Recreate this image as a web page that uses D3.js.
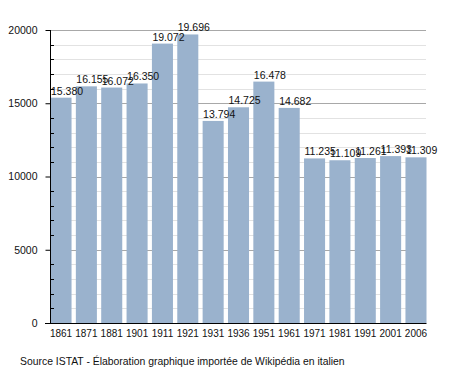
<!DOCTYPE html>
<html>
<head>
<meta charset="utf-8">
<script src="https://cdn.jsdelivr.net/npm/d3@7"></script>
<style>
  body { margin: 0; background: #fff; }
  text { font-family: "Liberation Sans", Arial, sans-serif; fill: #111; }
</style>
</head>
<body>
<div id="chart"></div>
<script>
var years = ["1861", "1871", "1881", "1901", "1911", "1921", "1931", "1936", "1951", "1961", "1971", "1981", "1991", "2001", "2006"];
var population = [15380, 16155, 16072, 16350, 19072, 19696, 13794, 14725, 16478, 14682, 11235, 11109, 11261, 11393, 11309];
var majorTicks = [0, 5000, 10000, 15000, 20000];
var minorTicks = d3.range(0, 20001, 1000);

var width = 455;
var height = 373;
var plotLeft = 50;
var plotRight = 426;
var plotTop = 30;
var plotBottom = 323;

var svg = d3.select("#chart")
  .append("svg")
  .attr("width", width)
  .attr("height", height);

var xScale = d3.scaleBand()
  .domain(years)
  .range([plotLeft, plotRight])
  .paddingInner(0.17)
  .paddingOuter(0);

var yScale = d3.scaleLinear()
  .domain([0, 20000])
  .range([plotBottom, plotTop]);

// minor grid
svg.append("g")
  .selectAll("line")
  .data(minorTicks.filter(function(d) { return d % 5000 !== 0; }))
  .enter()
  .append("line")
  .attr("x1", plotLeft)
  .attr("x2", plotRight)
  .attr("y1", function(d) { return Math.round(yScale(d)) + 0.5; })
  .attr("y2", function(d) { return Math.round(yScale(d)) + 0.5; })
  .attr("stroke", "#e2e2e2");

// major grid
svg.append("g")
  .selectAll("line")
  .data(majorTicks.filter(function(d) { return d > 0; }))
  .enter()
  .append("line")
  .attr("x1", plotLeft)
  .attr("x2", plotRight)
  .attr("y1", function(d) { return Math.round(yScale(d)) + 0.5; })
  .attr("y2", function(d) { return Math.round(yScale(d)) + 0.5; })
  .attr("stroke", "#a8a8a8");

// bars
svg.append("g")
  .selectAll("rect")
  .data(population)
  .enter()
  .append("rect")
  .attr("x", function(d, i) { return xScale(years[i]) + 0.5; })
  .attr("y", function(d) { return yScale(d); })
  .attr("width", xScale.bandwidth())
  .attr("height", function(d) { return plotBottom - yScale(d); })
  .attr("fill", "#9ab2cd");

// value labels
var fmt = d3.formatLocale({ decimal: ",", thousands: ".", grouping: [3], currency: ["", ""] }).format(",");
svg.append("g")
  .selectAll("text")
  .data(population)
  .enter()
  .append("text")
  .attr("x", function(d, i) { return xScale(years[i]) + 1; })
  .attr("y", function(d) { return yScale(d) - 3; })
  .attr("font-size", "10.5px")
  .text(function(d) { return fmt(d); });

// y axis
var yAxis = d3.axisLeft(yScale)
  .tickValues(majorTicks)
  .tickSize(5)
  .tickPadding(8)
  .tickFormat(d3.format("d"));
var gy = svg.append("g")
  .attr("transform", "translate(" + (plotLeft + 0.5) + ",0)")
  .call(yAxis);
gy.selectAll("text").attr("font-size", "10.5px").attr("fill", "#111");
gy.selectAll("line, path").attr("stroke", "#000");
gy.select(".domain").attr("d", "M0," + plotTop + "V" + plotBottom);

// minor ticks pointing inward
svg.append("g")
  .selectAll("line")
  .data(minorTicks.filter(function(d) { return d % 5000 !== 0; }))
  .enter()
  .append("line")
  .attr("x1", plotLeft)
  .attr("x2", plotLeft + 4)
  .attr("y1", function(d) { return Math.round(yScale(d)) + 0.5; })
  .attr("y2", function(d) { return Math.round(yScale(d)) + 0.5; })
  .attr("stroke", "#000");

// x axis
var xAxis = d3.axisBottom(xScale).tickSize(0).tickPadding(6);
var gx = svg.append("g")
  .attr("transform", "translate(0.5," + (plotBottom + 0.5) + ")")
  .call(xAxis);
gx.selectAll("text").attr("font-size", "10px").attr("fill", "#111");
gx.select(".domain").attr("stroke", "#000").attr("d", "M44.5,0H" + plotRight);

svg.append("text")
  .attr("x", 20)
  .attr("y", 365)
  .attr("font-size", "10.4px")
  .text("Source ISTAT - Élaboration graphique importée de Wikipédia en italien");
</script>
</body>
</html>
